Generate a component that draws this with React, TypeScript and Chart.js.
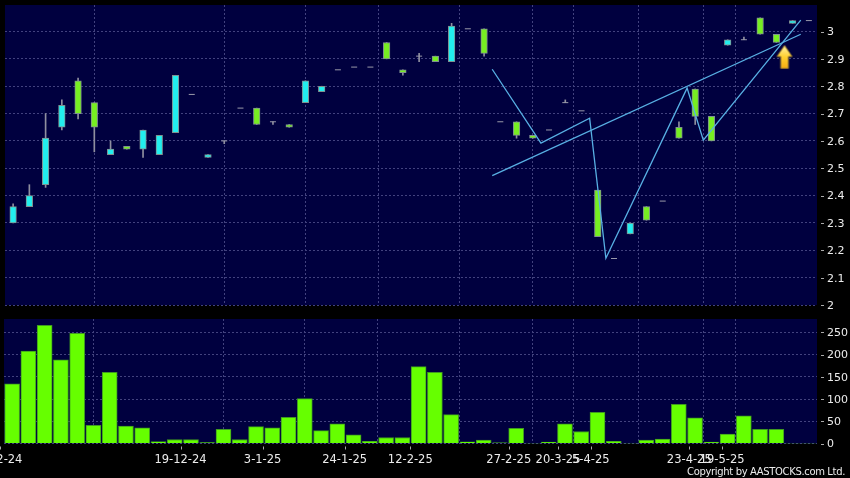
import React, { useEffect, useRef } from "react";
import { Chart, registerables } from "chart.js";

Chart.register(...registerables);

const opens = [2.3,2.36,2.44,2.65,2.82,2.74,2.55,2.58,2.57,2.55,2.63,2.77,2.54,2.6,2.72,2.72,2.67,2.66,2.74,2.78,2.86,2.87,2.87,2.96,2.86,2.91,2.91,2.89,3.01,3.01,2.67,2.67,2.62,2.64,2.74,2.71,2.42,2.17,2.26,2.36,2.38,2.65,2.79,2.69,2.95,2.97,3.05,2.99,3.03,3.04];
const closes = [2.36,2.4,2.61,2.73,2.7,2.65,2.57,2.57,2.64,2.62,2.84,2.77,2.55,2.6,2.72,2.66,2.67,2.65,2.82,2.8,2.86,2.87,2.87,2.9,2.85,2.91,2.89,3.02,3.01,2.92,2.67,2.62,2.61,2.64,2.74,2.71,2.25,2.17,2.3,2.31,2.38,2.61,2.69,2.6,2.97,2.97,2.99,2.96,3.04,3.04];
const highs = [2.37,2.44,2.7,2.75,2.83,2.74,2.6,2.58,2.64,2.62,2.84,2.77,2.55,2.6,2.72,2.72,2.67,2.66,2.82,2.8,2.86,2.87,2.87,2.96,2.86,2.92,2.91,3.03,3.01,3.01,2.67,2.67,2.62,2.64,2.75,2.71,2.42,2.17,2.3,2.36,2.38,2.67,2.79,2.69,2.97,2.98,3.05,2.99,3.04,3.04];
const lows = [2.3,2.36,2.43,2.64,2.68,2.56,2.55,2.57,2.54,2.55,2.63,2.77,2.54,2.59,2.72,2.66,2.66,2.65,2.74,2.78,2.86,2.87,2.87,2.9,2.84,2.89,2.89,2.89,3.01,2.91,2.67,2.61,2.61,2.64,2.74,2.71,2.25,2.17,2.26,2.31,2.38,2.61,2.66,2.6,2.95,2.97,2.99,2.96,3.03,3.04];
const volumes = [134,208,266,188,248,41,160,39,35,4.5,9,9,2,32,9,38,35,59,101,29,44,19.5,5,13.5,13.5,173,160,65,4,7.5,1.5,34,1,3,44,27,70,5,1,7.5,10,88,58,3,21,62,32,32,1,1];

const zigzagX = [30,33,36,37,42,43,49];
const zigzagY = [2.862,2.592,2.683,2.171,2.793,2.603,3.042];
const trendX = [30,49];
const trendY = [2.473,2.99];
const arrowX = [48];
const arrowY = [2.907];

const tickPositions = [0,11,16,21,25,31,34,36,42,44];
const tickLabels = ["2-12-24","19-12-24","3-1-25","24-1-25","12-2-25","27-2-25","20-3-25","5-4-25","23-4-25","19-5-25"];
const priceTicks = [2,2.1,2.2,2.3,2.4,2.5,2.6,2.7,2.8,2.9,3];
const volumeTicks = [0,50,100,150,200,250];

const AXIS_FONT = { family: "'DejaVu Sans'", size: 11 };
const DATE_FONT = { family: "'DejaVu Sans'", size: 11.5 };
const PLOT_BG = "#00003f";
const GRID = "#42427e";
const TEXT = "#ececec";
const LINE = "#58b0e4";
const DASH = [2, 2];

const panelBg = {
  id: "panelBg",
  beforeDraw(chart: any) {
    const { ctx, chartArea: a } = chart;
    ctx.save();
    ctx.fillStyle = PLOT_BG;
    ctx.fillRect(a.left, a.top, a.right - a.left, a.bottom - a.top);
    ctx.restore();
  },
};

const axisMarks = {
  id: "axisMarks",
  afterDraw(chart: any) {
    const { ctx, chartArea: a, scales } = chart;
    ctx.save();
    ctx.strokeStyle = "#a8a8a8";
    ctx.lineWidth = 1;
    ctx.beginPath();
    for (const t of scales.y.ticks) {
      const py = Math.round(scales.y.getPixelForValue(t.value)) + 0.5;
      ctx.moveTo(a.right + 4, py);
      ctx.lineTo(a.right + 7, py);
    }
    if (scales.dates) {
      for (const t of scales.dates.ticks) {
        const px = Math.round(scales.dates.getPixelForValue(t.value)) + 0.5;
        ctx.moveTo(px, a.bottom + 3);
        ctx.lineTo(px, a.bottom + 6);
      }
    }
    ctx.stroke();
    ctx.restore();
  },
};

function makeArrow() {
  const c = document.createElement("canvas");
  c.width = 18;
  c.height = 25;
  const g = c.getContext("2d")!;
  const grad = g.createLinearGradient(0, 0, 0, 25);
  grad.addColorStop(0, "#fff6b0");
  grad.addColorStop(0.5, "#ffd030");
  grad.addColorStop(1, "#f2a810");
  g.fillStyle = grad;
  g.strokeStyle = "#a08030";
  g.lineWidth = 1;
  g.beginPath();
  g.moveTo(9, 1);
  g.lineTo(16.5, 12);
  g.lineTo(12.8, 12);
  g.lineTo(12.8, 24);
  g.lineTo(5.2, 24);
  g.lineTo(5.2, 12);
  g.lineTo(1.5, 12);
  g.closePath();
  g.fill();
  g.stroke();
  return c;
}

const zeroPadding = (s: any) => {
  s.paddingLeft = s.paddingRight = s.paddingTop = s.paddingBottom = 0;
};

function gridX() {
  return {
    type: "linear",
    min: 0,
    max: 50,
    offset: false,
    border: { display: false, dash: DASH },
    grid: { color: GRID, lineWidth: 1, drawTicks: false },
    ticks: { display: false, autoSkip: false },
    afterBuildTicks: (s: any) => {
      s.ticks = tickPositions.map((value) => ({ value }));
    },
    afterFit: (s: any) => {
      s.height = 0;
      zeroPadding(s);
    },
  };
}

function dateAxis(height: number) {
  return {
    type: "linear",
    position: "bottom",
    min: 0.244,
    max: 49.78,
    offset: false,
    border: { display: false },
    grid: { display: false, drawTicks: false },
    ticks: {
      autoSkip: false,
      maxRotation: 0,
      minRotation: 0,
      padding: 10,
      color: TEXT,
      font: DATE_FONT,
      callback: (v: number) => tickLabels[tickPositions.indexOf(v)] ?? "",
    },
    afterBuildTicks: (s: any) => {
      s.ticks = tickPositions.map((value) => ({ value }));
    },
    afterFit: (s: any) => {
      s.height = height;
      zeroPadding(s);
    },
  };
}

function yScale(min: number, max: number, values: number[]) {
  return {
    type: "linear",
    position: "right",
    min,
    max,
    border: { display: false, dash: DASH },
    grid: { color: GRID, lineWidth: 1, drawTicks: false },
    ticks: {
      autoSkip: false,
      padding: 10,
      labelOffset: 1,
      color: TEXT,
      font: AXIS_FONT,
      callback: (v: number) => String(Math.round(v * 10) / 10),
    },
    afterBuildTicks: (s: any) => {
      s.ticks = values.map((value) => ({ value }));
    },
    afterFit: (s: any) => {
      s.width = 33;
      zeroPadding(s);
    },
  };
}

export default function App() {
  const priceRef = useRef<HTMLCanvasElement>(null);
  const volRef = useRef<HTMLCanvasElement>(null);

  useEffect(() => {
    const idx = opens.map((_, i) => i);
    const isDoji = (i: number) => opens[i] === closes[i];
    const bodyIdx = idx.filter((i) => !isDoji(i));
    const dojiIdx = idx.filter(isDoji);
    const wickIdx = idx.filter((i) => highs[i] !== lows[i]);

    const price = new Chart(priceRef.current!, {
      type: "bar",
      data: {
        datasets: [
          {
            type: "bar",
            label: "Wick",
            data: wickIdx.map((i) => ({ x: i + 0.5, y: [lows[i], highs[i]] })),
            backgroundColor: "#8f8f9f",
            borderWidth: 0,
            barThickness: 1,
            grouped: false,
            order: 5,
          },
          {
            type: "bar",
            label: "Body",
            data: bodyIdx.map((i) => ({ x: i + 0.5, y: [opens[i], closes[i]] })),
            backgroundColor: bodyIdx.map((i) => (closes[i] > opens[i] ? "#22eeee" : "#77ee22")),
            borderColor: "#7f9090",
            borderWidth: 1,
            borderSkipped: false,
            barThickness: 6.6,
            grouped: false,
            order: 4,
          },
          {
            type: "scatter",
            label: "Doji",
            data: dojiIdx.map((i) => ({ x: i + 0.5, y: closes[i] })),
            pointStyle: "line",
            pointRadius: 3,
            borderColor: "#9a9aaa",
            borderWidth: 1,
            order: 3,
          },
          {
            type: "line",
            label: "Zigzag",
            data: zigzagX.map((x, i) => ({ x, y: zigzagY[i] })),
            borderColor: LINE,
            borderWidth: 1.3,
            pointRadius: 0,
            tension: 0,
            order: 2,
          },
          {
            type: "line",
            label: "Trend",
            data: trendX.map((x, i) => ({ x, y: trendY[i] })),
            borderColor: LINE,
            borderWidth: 1.3,
            pointRadius: 0,
            tension: 0,
            order: 2,
          },
          {
            type: "scatter",
            label: "Signal",
            data: arrowX.map((x, i) => ({ x, y: arrowY[i] })),
            pointStyle: makeArrow(),
            order: 1,
          },
        ] as any,
      },
      options: {
        responsive: false,
        animation: false,
        layout: { padding: { left: 4, right: 0, top: 5, bottom: 7 } },
        plugins: { legend: { display: false }, tooltip: { enabled: false } },
        scales: { x: gridX(), y: yScale(2, 3.097, priceTicks) },
      } as any,
      plugins: [panelBg, axisMarks],
    });

    const volY: any = yScale(0, 280, volumeTicks);
    volY.ticks.callback = (v: number) => String(v);

    const vol = new Chart(volRef.current!, {
      type: "bar",
      data: {
        datasets: [
          {
            label: "Volume",
            data: volumes.map((v, i) => ({ x: i + 0.5, y: v })),
            backgroundColor: "#66ff00",
            borderColor: "#3f9a20",
            borderWidth: 1,
            barThickness: 15,
            grouped: false,
          },
        ],
      },
      options: {
        responsive: false,
        animation: false,
        layout: { padding: { left: 4, right: 0, top: 7, bottom: 0 } },
        plugins: { legend: { display: false }, tooltip: { enabled: false } },
        scales: { x: gridX(), dates: dateAxis(34.5), y: volY },
      } as any,
      plugins: [panelBg, axisMarks],
    });

    return () => {
      price.destroy();
      vol.destroy();
    };
  }, []);

  return (
    <div style={{ position: "absolute", left: 0, top: 0, width: 850, height: 478, background: "#000", overflow: "hidden" }}>
      <canvas ref={priceRef} width={850} height={312} style={{ position: "absolute", left: 0, top: 0 }} />
      <canvas ref={volRef} width={850} height={166} style={{ position: "absolute", left: 0, top: 312 }} />
      <div style={{ position: "absolute", right: 5, top: 466, color: TEXT, font: "10px 'DejaVu Sans'", letterSpacing: "-0.35px", whiteSpace: "nowrap" }}>
        Copyright by AASTOCKS.com Ltd.
      </div>
    </div>
  );
}
